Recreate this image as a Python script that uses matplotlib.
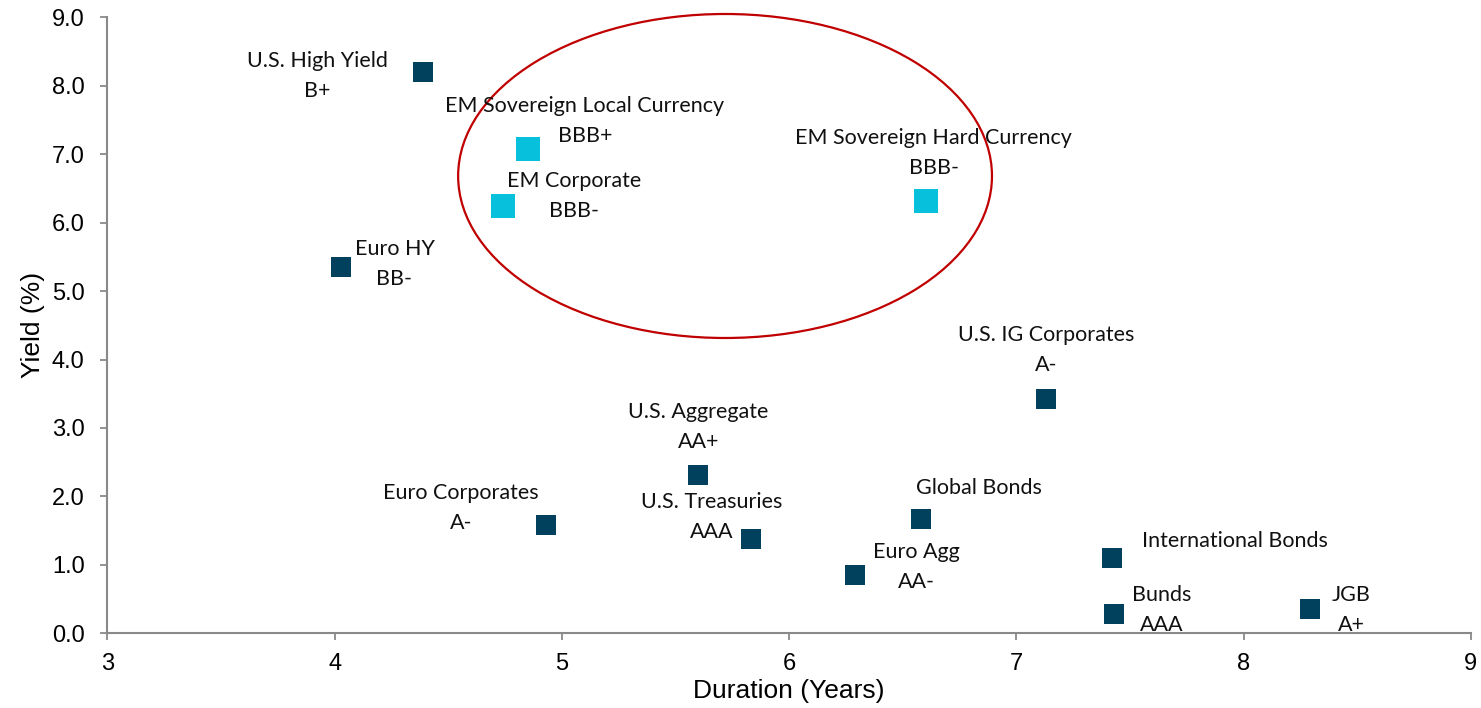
import matplotlib.pyplot as plt
from matplotlib.patches import Ellipse

# data
names = ['U.S. High Yield', 'EM Sovereign Local Currency', 'EM Corporate',
         'EM Sovereign Hard Currency', 'Euro HY', 'U.S. IG Corporates',
         'U.S. Aggregate', 'Euro Corporates', 'U.S. Treasuries', 'Global Bonds',
         'Euro Agg', 'International Bonds', 'Bunds', 'JGB']
ratings = ['B+', 'BBB+', 'BBB-', 'BBB-', 'BB-', 'A-', 'AA+', 'A-', 'AAA', '',
           'AA-', '', 'AAA', 'A+']
duration = [4.39, 4.85, 4.74, 6.60, 4.03, 7.13, 5.60, 4.93, 5.83, 6.58,
            6.29, 7.42, 7.43, 8.29]
yields = [8.20, 7.08, 6.25, 6.32, 5.35, 3.42, 2.31, 1.58, 1.38, 1.67,
          0.85, 1.10, 0.28, 0.36]
is_em = [False, True, True, True, False, False, False, False, False, False,
         False, False, False, False]

# label offsets in pixels (dx right, dy down) from each marker to the label block centre
label_off = [(-106, 4), (57, -28), (71, -10), (8, -48), (53, -3), (0, -49),
             (0, -48), (-85, -17), (-39, -22), (58, -31), (61, -8), (123, -17),
             (48, -4), (42, 1)]

DARK = '#02415E'
CYAN = '#06C0DC'
AXC = '#898989'

fig = plt.figure(figsize=(14.81, 7.08), dpi=100)
ax = fig.add_axes([0.0725, 0.1055, 0.9207, 0.870])

ax.set_xlim(3, 9)
ax.set_ylim(0, 9)

ellipse = Ellipse((5.718, 6.682), 2.349, 4.734, fill=False, edgecolor='#C00000',
                  linewidth=1.6, clip_on=False, zorder=1)
ax.add_patch(ellipse)

dx = [d for d, e in zip(duration, is_em) if not e]
dy = [y for y, e in zip(yields, is_em) if not e]
ex = [d for d, e in zip(duration, is_em) if e]
ey = [y for y, e in zip(yields, is_em) if e]
ax.scatter(dx, dy, marker='s', s=13.8**2, color=DARK, linewidths=0, zorder=3, clip_on=False)
ax.scatter(ex, ey, marker='s', s=17.3**2, color=CYAN, linewidths=0, zorder=3, clip_on=False)

lab_font = dict(family=['Lato', 'DejaVu Sans'], fontsize=15.5, color='#111111')
for n, r, x, y, (ox, oy) in zip(names, ratings, duration, yields, label_off):
    if r:
        ax.annotate(n, (x, y), xytext=(ox, -oy + 15), textcoords='offset pixels',
                    ha='center', va='center', zorder=2, **lab_font)
        ax.annotate(r, (x, y), xytext=(ox, -oy - 15), textcoords='offset pixels',
                    ha='center', va='center', zorder=2, **lab_font)
    else:
        ax.annotate(n, (x, y), xytext=(ox, -oy), textcoords='offset pixels',
                    ha='center', va='center', zorder=2, **lab_font)

for s in ['top', 'right']:
    ax.spines[s].set_visible(False)
for s in ['left', 'bottom']:
    ax.spines[s].set_color(AXC)
    ax.spines[s].set_linewidth(1.5)
    ax.spines[s].set_zorder(4)

ax.set_xticks(range(3, 10))
ax.set_yticks([i * 1.0 for i in range(10)])
ax.set_yticklabels([f'{i:.1f}' for i in range(10)])
ax.tick_params(axis='both', direction='out', length=5.3, width=1.3, color=AXC,
               labelsize=17, labelcolor='black')
ax.tick_params(axis='y', pad=11)
ax.tick_params(axis='x', pad=9)
for lbl in ax.get_xticklabels() + ax.get_yticklabels():
    lbl.set_family('Liberation Sans')

ax.set_xlabel('Duration (Years)', fontsize=19, family='Liberation Sans', labelpad=3)
ax.set_ylabel('Yield (%)', fontsize=19, family='Liberation Sans', labelpad=5)

plt.savefig('out.png', dpi=100)
plt.close()
